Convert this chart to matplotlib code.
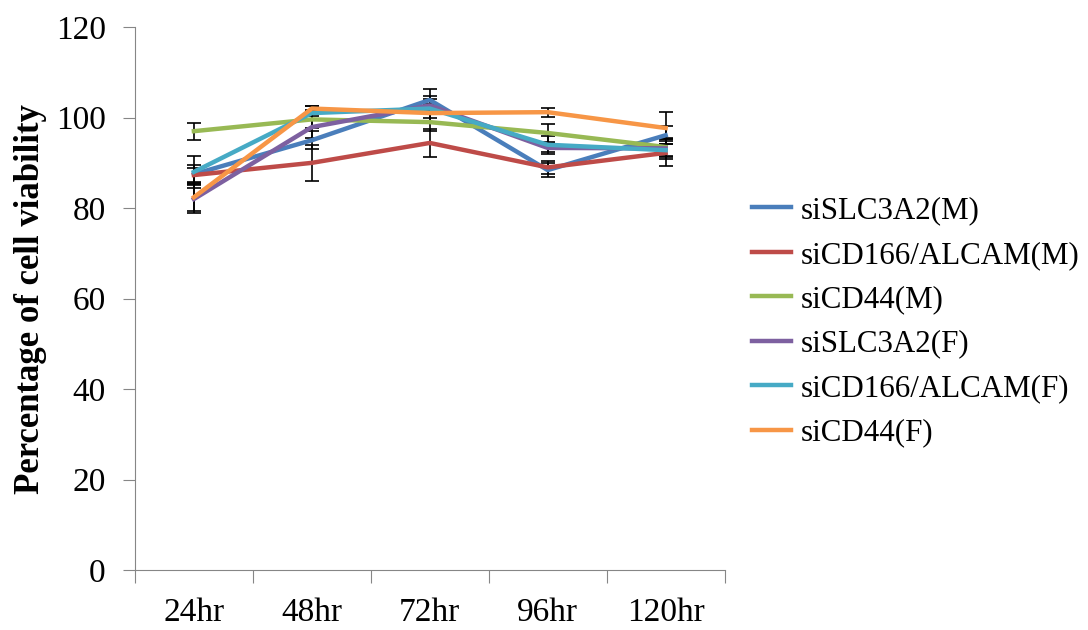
import numpy as np
import matplotlib.pyplot as plt

# data
timepoints = ["24hr", "48hr", "72hr", "96hr", "120hr"]
labels = ["siSLC3A2(M)", "siCD166/ALCAM(M)", "siCD44(M)",
          "siSLC3A2(F)", "siCD166/ALCAM(F)", "siCD44(F)"]
colors = ["#4a7ebb", "#be4b48", "#98b954", "#7d60a0", "#46aac5", "#f79646"]

slc_m = [87.5, 95.0, 103.9, 88.4, 96.1]
cd166_m = [87.3, 90.0, 94.4, 89.0, 92.2]
cd44_m = [97.0, 99.6, 99.0, 96.6, 93.5]
slc_f = [82.0, 97.9, 102.7, 93.3, 93.2]
cd166_f = [88.0, 101.0, 102.0, 94.0, 92.8]
cd44_f = [82.4, 102.0, 101.0, 101.2, 97.7]

slc_m_err = [2.0, 2.0, 2.5, 1.5, 2.0]
cd166_m_err = [1.5, 4.0, 3.0, 1.5, 3.0]
cd44_m_err = [1.9, 2.0, 2.0, 2.0, 2.0]
slc_f_err = [3.0, 2.5, 2.0, 1.0, 2.0]
cd166_f_err = [3.5, 1.5, 2.0, 2.0, 2.0]
cd44_f_err = [3.0, 0.5, 2.0, 1.0, 3.5]

series = [slc_m, cd166_m, cd44_m, slc_f, cd166_f, cd44_f]
errors = [slc_m_err, cd166_m_err, cd44_m_err, slc_f_err, cd166_f_err, cd44_f_err]

plt.rcParams["font.family"] = ["Liberation Serif", "DejaVu Serif"]

fig = plt.figure(figsize=(10.88, 6.3), dpi=100)
ax = fig.add_axes([0.124, 0.095, 0.542, 0.862])

x = np.arange(1, len(timepoints) + 1)
for vals, err, lab, col in zip(series, errors, labels, colors):
    ax.plot(x, vals, color=col, lw=3.2, label=lab, zorder=3)
    ax.errorbar(x, vals, yerr=err, fmt="none", ecolor="black",
                elinewidth=1.2, capsize=5, capthick=1.2, zorder=2)

ax.set_xlim(0.5, len(timepoints) + 0.5)
ax.set_ylim(0, 120)
ax.set_yticks(range(0, 121, 20))
ax.set_xticks(np.arange(0.5, len(timepoints) + 1, 1))
ax.set_xticklabels([])
ax.set_xticks(x, minor=True)
ax.set_xticklabels(timepoints, minor=True)
ax.tick_params(axis="x", which="minor", length=0, labelsize=24, pad=20)
ax.tick_params(axis="x", which="major", length=9, color="#868686", direction="out")
ax.tick_params(axis="y", labelsize=24, length=9, pad=12, color="#868686", direction="out")

for side in ["top", "right"]:
    ax.spines[side].set_visible(False)
for side in ["left", "bottom"]:
    ax.spines[side].set_color("#868686")

ax.set_ylabel("Percentage of cell viability", fontsize=25, fontweight="bold", labelpad=6)

ax.legend(loc="center left", bbox_to_anchor=(1.0, 0.457), frameon=False,
          fontsize=22.3, handlelength=1.25, handletextpad=0.3, labelspacing=0.5)

fig.savefig("out.png", dpi=100)
